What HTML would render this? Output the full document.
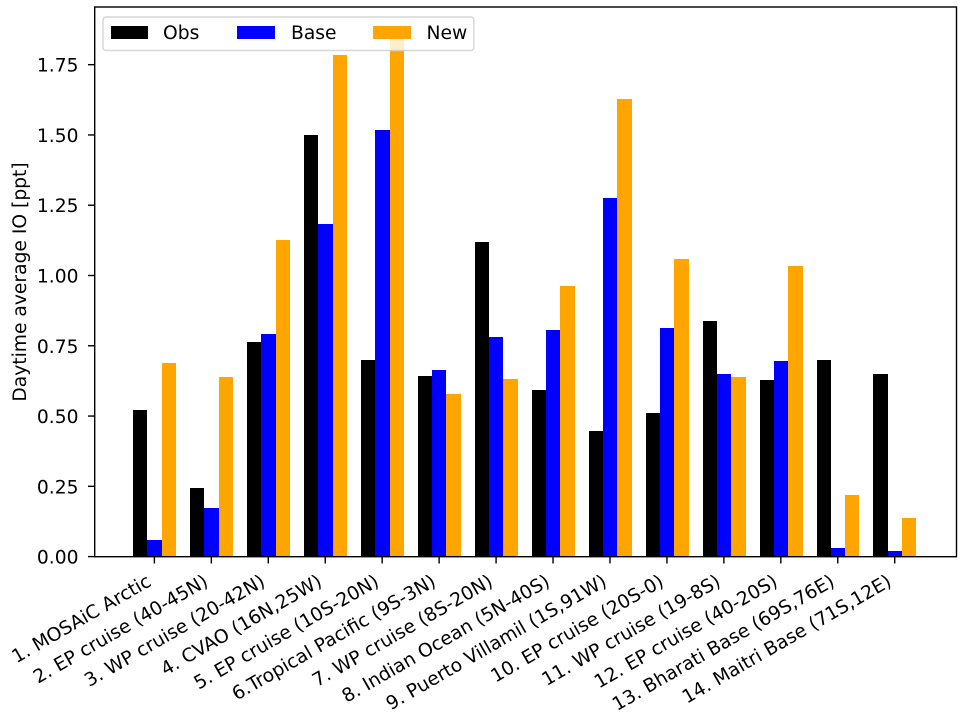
<!DOCTYPE html>
<html>
<head>
<meta charset="utf-8">
<title>Daytime average IO</title>
<style>
html,body{margin:0;padding:0;background:#fff;width:966px;height:718px;overflow:hidden}
svg{display:block}
text{font-family:"DejaVu Sans","Liberation Sans",sans-serif;font-size:18.7px;fill:#000}
</style>
</head>
<body>
<svg id="chart" width="966" height="718" viewBox="0 0 966 718" xmlns="http://www.w3.org/2000/svg">
  <rect x="0" y="0" width="966" height="718" fill="#fff"/>
  <g id="bars"></g>
  <g id="xticks"></g>
  <g id="yticks"></g>
  <text transform="translate(26,282) rotate(-90)" text-anchor="middle">Daytime average IO [ppt]</text>
  <rect x="94.7" y="7" width="861.8" height="549.7" fill="none" stroke="#000" stroke-width="1.4"/>
  <g id="legend">
    <rect x="103" y="17" width="370.8" height="33.5" rx="3" ry="3" fill="#fff" fill-opacity="0.8" stroke="#ccc" stroke-opacity="0.8" stroke-width="1.4"/>
    <rect x="111" y="26" width="37" height="13" fill="#000"/>
    <text x="163" y="39">Obs</text>
    <rect x="237" y="26" width="38" height="13" fill="#0000ff"/>
    <text x="291" y="39">Base</text>
    <rect x="373" y="26" width="38" height="13" fill="#ffa500"/>
    <text x="426.5" y="39">New</text>
  </g>
</svg>
<script>
const categories = ["1. MOSAiC Arctic","2. EP cruise (40-45N)","3. WP cruise (20-42N)","4. CVAO (16N,25W)","5. EP cruise (10S-20N)","6.Tropical Pacific (9S-3N)","7. WP cruise (8S-20N)","8. Indian Ocean (5N-40S)","9. Puerto Villamil (1S,91W)","10. EP cruise (20S-0)","11. WP cruise (19-8S)","12. EP cruise (40-20S)","13. Bharati Base (69S,76E)","14. Maitri Base (71S,12E)"];
const obsValues = [0.521,0.244,0.763,1.500,0.699,0.642,1.120,0.592,0.446,0.510,0.838,0.628,0.699,0.649];
const baseValues = [0.059,0.172,0.791,1.183,1.517,0.663,0.781,0.806,1.275,0.813,0.649,0.695,0.030,0.020];
const newValues = [0.688,0.638,1.126,1.784,1.870,0.578,0.631,0.962,1.628,1.058,0.638,1.033,0.219,0.137];
const yTickValues = [0,0.25,0.5,0.75,1,1.25,1.5,1.75];
const yTickLabels = ["0.00","0.25","0.50","0.75","1.00","1.25","1.50","1.75"];

const NS = 'http://www.w3.org/2000/svg';
function xScale(i){ return 154.58 + 56.95 * i; }
function yScale(v){ return 556.6 - 281.1 * v; }
const barWidth = 14.32;

const seriesDefs = [
  {key:'obs', color:'#000000', values:obsValues, offset:-1},
  {key:'base', color:'#0000ff', values:baseValues, offset:0},
  {key:'new', color:'#ffa500', values:newValues, offset:1}
];

const barsGroup = document.getElementById('bars');
seriesDefs.forEach(function(s){
  s.values.forEach(function(v,i){
    const c = xScale(i) + s.offset * barWidth;
    const x0 = Math.round(c - barWidth/2);
    const x1 = Math.round(c + barWidth/2);
    const y0 = Math.round(yScale(v));
    const y1 = Math.round(yScale(0));
    const r = document.createElementNS(NS,'rect');
    r.setAttribute('x', x0);
    r.setAttribute('y', y0);
    r.setAttribute('width', x1 - x0);
    r.setAttribute('height', y1 - y0);
    r.setAttribute('fill', s.color);
    r.setAttribute('shape-rendering', 'crispEdges');
    
    
    barsGroup.appendChild(r);
  });
});

const xGroup = document.getElementById('xticks');
categories.forEach(function(label,i){
  const c = xScale(i) - 0.2;
  const t = document.createElementNS(NS,'line');
  t.setAttribute('x1', c);
  t.setAttribute('x2', c);
  t.setAttribute('y1', 556.7);
  t.setAttribute('y2', 563.5);
  t.setAttribute('stroke', '#000');
  t.setAttribute('stroke-width', 1.4);
  
  
  xGroup.appendChild(t);
  const tx = document.createElementNS(NS,'text');
  tx.setAttribute('text-anchor', 'end');
  tx.setAttribute('transform', 'translate(' + (c - 2) + ',585) rotate(-30)');
  
  
  tx.textContent = label;
  xGroup.appendChild(tx);
});

const yGroup = document.getElementById('yticks');
yTickValues.forEach(function(v,i){
  const y = yScale(v);
  const t = document.createElementNS(NS,'line');
  t.setAttribute('x1', 88);
  t.setAttribute('x2', 94.7);
  t.setAttribute('y1', y);
  t.setAttribute('y2', y);
  t.setAttribute('stroke', '#000');
  t.setAttribute('stroke-width', 1.4);
  
  
  yGroup.appendChild(t);
  const tx = document.createElementNS(NS,'text');
  tx.setAttribute('x', 78.5);
  tx.setAttribute('y', y + 7);
  tx.setAttribute('text-anchor', 'end');
  
  
  tx.textContent = yTickLabels[i];
  yGroup.appendChild(tx);
});
</script>
</body>
</html>
